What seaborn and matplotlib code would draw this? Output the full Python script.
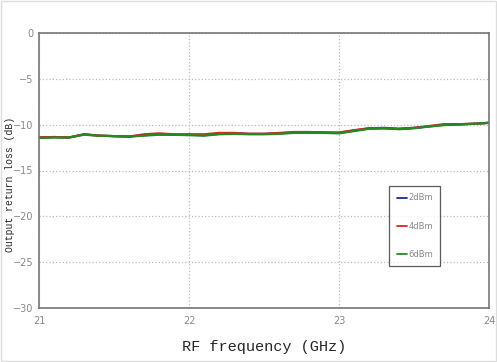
import numpy as np
import pandas as pd
import matplotlib
matplotlib.use('Agg')
import matplotlib.pyplot as plt
import seaborn as sns

# 频率 (GHz)
freq = [21.0, 21.1, 21.2, 21.3, 21.4, 21.5, 21.6, 21.7, 21.8, 21.9, 22.0,
        22.1, 22.2, 22.3, 22.4, 22.5, 22.6, 22.7, 22.8, 22.9, 23.0,
        23.1, 23.2, 23.3, 23.4, 23.5, 23.6, 23.7, 23.8, 23.9, 24.0]
loss_2dbm = [-11.4, -11.35, -11.4, -11.05, -11.2, -11.25, -11.3, -11.15, -11.05, -11.1, -11.1,
             -11.15, -11.0, -10.95, -11.0, -11.0, -10.95, -10.85, -10.85, -10.85, -10.9,
             -10.65, -10.4, -10.35, -10.45, -10.35, -10.2, -10.0, -9.95, -9.9, -9.8]
loss_4dbm = [-11.4, -11.35, -11.4, -11.05, -11.2, -11.25, -11.3, -11.05, -10.95, -11.05, -11.05,
             -11.05, -10.9, -10.9, -11.0, -11.0, -10.9, -10.8, -10.8, -10.85, -10.85,
             -10.6, -10.4, -10.4, -10.45, -10.35, -10.15, -9.95, -9.95, -9.9, -9.8]
loss_6dbm = [-11.45, -11.4, -11.4, -11.1, -11.2, -11.25, -11.3, -11.2, -11.1, -11.1, -11.15,
             -11.2, -11.05, -11.0, -11.05, -11.05, -11.0, -10.9, -10.9, -10.9, -10.95,
             -10.7, -10.45, -10.4, -10.5, -10.4, -10.2, -10.05, -10.0, -9.9, -9.8]
series_names = ['2dBm', '4dBm', '6dBm']
series_colors = ['#1f2a8a', '#d42a1f', '#238a23']

df = pd.DataFrame({
    'freq': freq * 3,
    'loss': loss_2dbm + loss_4dbm + loss_6dbm,
    'power': sum([[n] * len(freq) for n in series_names], []),
})

sns.set_style('white')
fig = plt.figure(figsize=(4.97, 3.62), dpi=100)
ax = fig.add_axes([39 / 497, 1 - 308 / 362, 450 / 497, 275 / 362])

sns.lineplot(data=df, x='freq', y='loss', hue='power', hue_order=series_names,
             palette=series_colors, linewidth=1.6, ax=ax)

ax.set_xlim(21, 24)
ax.set_ylim(-30, 0)
ax.set_xticks([21, 22, 23, 24])
ax.set_yticks([0, -5, -10, -15, -20, -25, -30])
ax.tick_params(axis='x', length=0, labelsize=7, labelcolor='#888888', pad=6)
ax.tick_params(axis='y', length=0, labelsize=7, labelcolor='#888888', pad=4)
ax.grid(True, linestyle=':', color='#bbbbbb', linewidth=0.9)
for s in ax.spines.values():
    s.set_color('#777777')
    s.set_linewidth(1.2)

ax.set_xlabel('RF frequency (GHz)', family='Liberation Mono', fontsize=11, labelpad=10)
ax.set_ylabel('Output return loss (dB)', family='Liberation Mono', fontsize=7)
ax.yaxis.set_label_coords(-0.054, 0.45)

leg = ax.legend(loc='upper left', bbox_to_anchor=(350 / 450, (308 - 186) / 275),
                frameon=True, fancybox=False, fontsize=6, handlelength=1.3,
                handletextpad=0.1, labelspacing=2.3, borderpad=0.9, borderaxespad=0)
leg.get_frame().set_edgecolor('#333333')
leg.get_frame().set_linewidth(0.9)
for t in leg.get_texts():
    t.set_color('#888888')
for l in leg.get_lines():
    l.set_linewidth(1.3)

fig.patches.append(plt.Rectangle((0.002, 0.002), 0.996, 0.996, transform=fig.transFigure,
                                 fill=False, edgecolor='#dddddd', linewidth=1))
plt.savefig('out.png', dpi=100)
plt.close()
